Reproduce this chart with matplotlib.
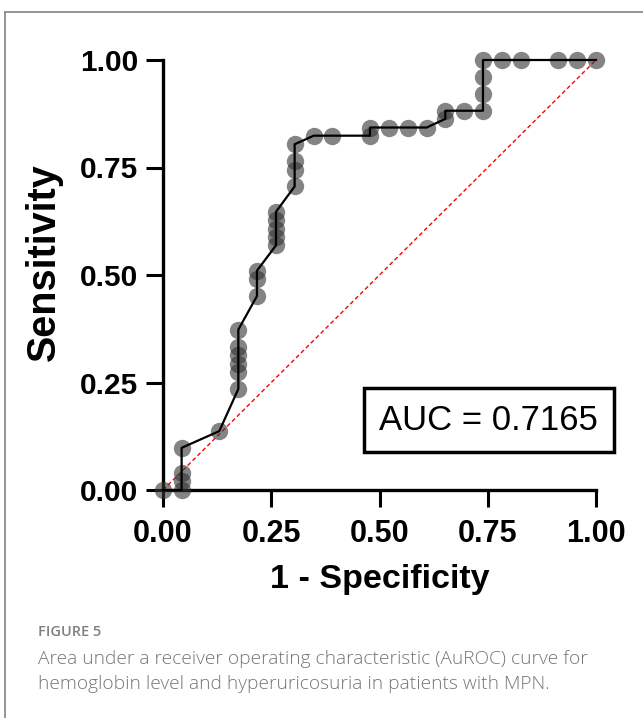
import matplotlib
matplotlib.use("Agg")
import matplotlib.pyplot as plt
from matplotlib.lines import Line2D

plt.rcParams['font.family'] = ['Liberation Sans', 'DejaVu Sans']

# ROC points (1 - specificity, sensitivity)
fpr = [0.000, 0.043, 0.043, 0.043, 0.043, 0.130,
       0.174, 0.174, 0.174, 0.174, 0.174, 0.174,
       0.217, 0.217, 0.217,
       0.261, 0.261, 0.261, 0.261, 0.261,
       0.304, 0.304, 0.304, 0.304,
       0.348, 0.391, 0.478, 0.478, 0.522, 0.565, 0.609,
       0.652, 0.652, 0.696, 0.739, 0.739, 0.739, 0.739,
       0.783, 0.826, 0.913, 0.957, 1.000]
tpr = [0.000, 0.000, 0.020, 0.039, 0.098, 0.137,
       0.235, 0.275, 0.294, 0.314, 0.333, 0.373,
       0.451, 0.490, 0.510,
       0.569, 0.588, 0.608, 0.627, 0.647,
       0.706, 0.745, 0.765, 0.804,
       0.824, 0.824, 0.824, 0.843, 0.843, 0.843, 0.843,
       0.863, 0.882, 0.882, 0.882, 0.922, 0.961, 1.000,
       1.000, 1.000, 1.000, 1.000, 1.000]
ticks = [0.00, 0.25, 0.50, 0.75, 1.00]
tick_labels = ["0.00", "0.25", "0.50", "0.75", "1.00"]
auc_text = "AUC = 0.7165"

W, H = 643, 718
fig = plt.figure(figsize=(W / 100, H / 100), dpi=100)
ax = fig.add_axes([163 / W, 1 - 490 / H, 433 / W, 430 / H])

ax.plot([0, 1], [0, 1], color="red", lw=1.0, ls=(0, (3, 2)), zorder=2, clip_on=False)
ax.plot(fpr, tpr, "o", ms=12.5, color="#333333", alpha=0.6, mec="none", zorder=3, clip_on=False)
ax.plot(fpr, tpr, "-", color="black", lw=1.6, zorder=4, clip_on=False)

ax.set_xlim(0, 1)
ax.set_ylim(0, 1)
ax.set_xticks(ticks)
ax.set_yticks(ticks)
ax.set_xticklabels(tick_labels, fontsize=22, fontweight="bold")
ax.set_yticklabels(tick_labels, fontsize=21.5, fontweight="bold")
ax.tick_params(direction="out", length=12, width=2.2, color="black")
ax.tick_params(axis="x", pad=9)
ax.tick_params(axis="y", pad=6)
for s in ["top", "right"]:
    ax.spines[s].set_visible(False)
for s in ["left", "bottom"]:
    ax.spines[s].set_linewidth(2.4)

ax.set_xlabel("1 - Specificity", fontsize=24.5, fontweight="bold", labelpad=11)
ax.set_ylabel("Sensitivity", fontsize=28.5, fontweight="bold")
ax.yaxis.set_label_coords(-0.232, 0.53)

ax.text(0.7525, 0.1625, auc_text, fontsize=25, ha="center", va="center",
        bbox=dict(boxstyle="square,pad=0.44", fc="white", ec="black", lw=2.5), zorder=5)

# frame of the figure panel (only top and left edges visible)
fig.add_artist(Line2D([5 / W, 5 / W], [0, 1 - 12 / H], transform=fig.transFigure,
                      color="#8c8c8c", lw=1.3))
fig.add_artist(Line2D([5 / W, 1], [1 - 12 / H, 1 - 12 / H], transform=fig.transFigure,
                      color="#8c8c8c", lw=1.3))

cap_font = ["Open Sans", "DejaVu Sans"]
fig.text(38 / W, 1 - 636 / H, "FIGURE 5", fontsize=10.5, color="#808080",
         family=cap_font, fontweight="semibold", va="baseline")
fig.text(38 / W, 1 - 664 / H,
         "Area under a receiver operating characteristic (AuROC) curve for",
         fontsize=13.8, color="#757575", family=cap_font, fontweight="light", va="baseline")
fig.text(38 / W, 1 - 689 / H,
         "hemoglobin level and hyperuricosuria in patients with MPN.",
         fontsize=13.8, color="#757575", family=cap_font, fontweight="light", va="baseline")

fig.savefig("out.png", dpi=100)
